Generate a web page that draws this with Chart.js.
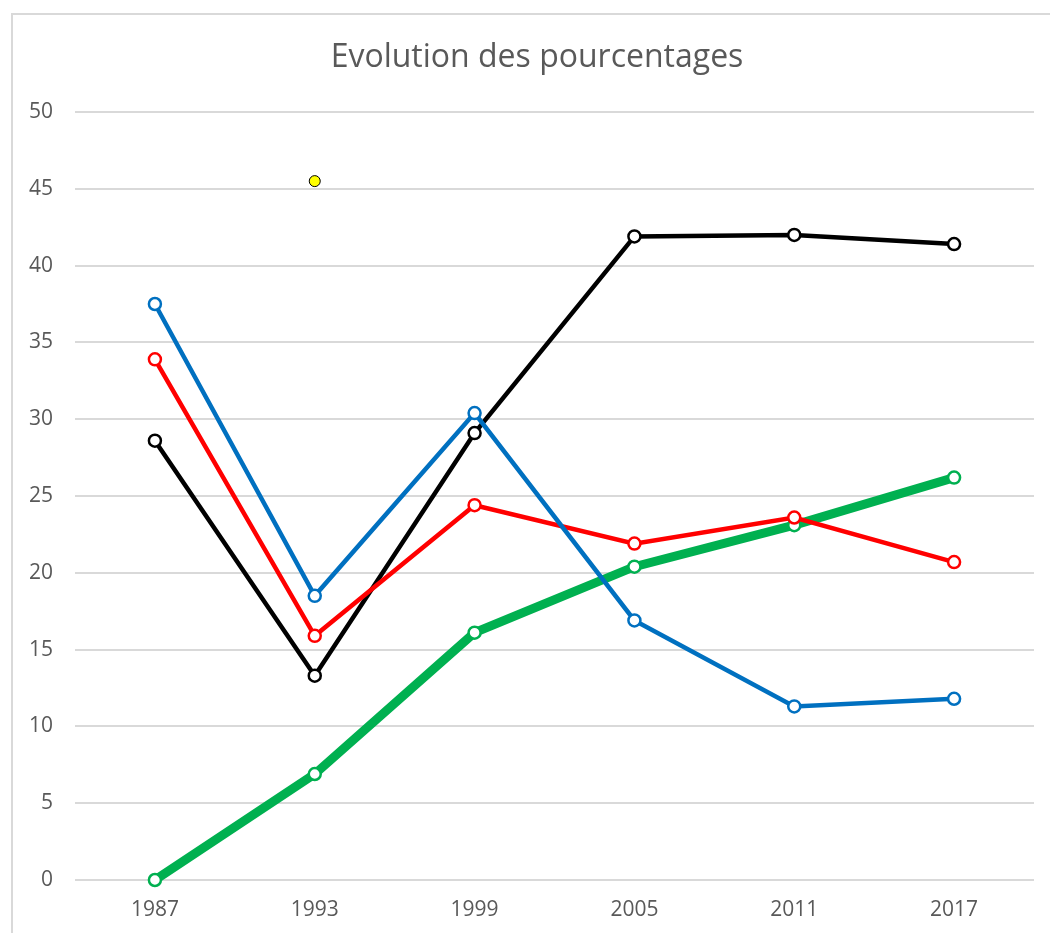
<!DOCTYPE html>
<html>
<head>
<meta charset="utf-8">
<script src="https://cdn.jsdelivr.net/npm/chart.js@4/dist/chart.umd.min.js"></script>
<style>
  body { margin: 0; background: #fff; }
  #wrap { position: absolute; left: 0; top: 0; width: 1050px; height: 933px; }
</style>
</head>
<body>
<div id="wrap"><canvas id="chart" width="1050" height="933"></canvas></div>
<script>
'use strict';
// data
var years = ['1987', '1993', '1999', '2005', '2011', '2017'];
var blackValues = [28.6, 13.3, 29.1, 41.9, 42.0, 41.4];
var redValues = [33.9, 15.9, 24.4, 21.9, 23.6, 20.7];
var blueValues = [37.5, 18.5, 30.4, 16.9, 11.3, 11.8];
var greenValues = [0, 6.9, 16.1, 20.4, 23.1, 26.2];
var yellowValues = [null, 45.5, null, null, null, null];
var titleText = 'Evolution des pourcentages';

var textColor = '#595959';
var gridColor = '#d9d9d9';

// light frame around the whole chart + the title
var framePlugin = {
  id: 'frame',
  beforeDraw: function (chart) {
    var ctx = chart.ctx;
    ctx.save();
    ctx.fillStyle = '#fff';
    ctx.fillRect(0, 0, chart.width, chart.height);
    ctx.strokeStyle = gridColor;
    ctx.lineWidth = 2;
    ctx.strokeRect(12, 14, 1100, 1000);
    ctx.restore();
  },
  afterDraw: function (chart) {
    var ctx = chart.ctx;
    ctx.save();
    ctx.fillStyle = textColor;
    ctx.font = '32px "Open Sans"';
    ctx.textAlign = 'center';
    ctx.textBaseline = 'middle';
    ctx.fillText(titleText, 537, 58);
    ctx.restore();
  }
};

function lineSet(values, color, width) {
  return {
    data: values,
    borderColor: color,
    borderWidth: width,
    pointRadius: 6,
    pointBorderWidth: 2.5,
    pointBackgroundColor: '#fff',
    pointBorderColor: color,
    tension: 0,
    clip: 12
  };
}

var ctx = document.getElementById('chart').getContext('2d');
var chart = new Chart(ctx, {
  type: 'line',
  data: {
    labels: years,
    // first dataset is drawn on top
    datasets: [
      {
        data: yellowValues,
        showLine: false,
        pointRadius: 5.5,
        pointBorderWidth: 1,
        pointBackgroundColor: '#ffff00',
        pointBorderColor: '#000',
        clip: 12
      },
      lineSet(blueValues, '#0070c0', 4.5),
      lineSet(redValues, '#ff0000', 4.5),
      lineSet(blackValues, '#000000', 4.5),
      lineSet(greenValues, '#00b050', 9)
    ]
  },
  plugins: [framePlugin],
  options: {
    responsive: false,
    animation: false,
    layout: { padding: { left: 0, right: 16, top: 112, bottom: 0 } },
    plugins: {
      legend: { display: false },
      tooltip: { enabled: false },
      title: { display: false }
    },
    scales: {
      x: {
        offset: true,
        grid: { display: false, drawTicks: false },
        border: { display: false },
        ticks: { color: textColor, font: { family: 'Open Sans', size: 21 }, padding: 17 },
        afterFit: function (scale) { scale.height = 53; }
      },
      y: {
        min: 0,
        max: 50,
        ticks: { stepSize: 5, color: textColor, font: { family: 'Open Sans', size: 21 }, padding: 22 },
        grid: { color: gridColor, lineWidth: 2, drawTicks: false },
        border: { display: false },
        afterFit: function (scale) { scale.width = 75; }
      }
    }
  }
});
</script>
</body>
</html>
